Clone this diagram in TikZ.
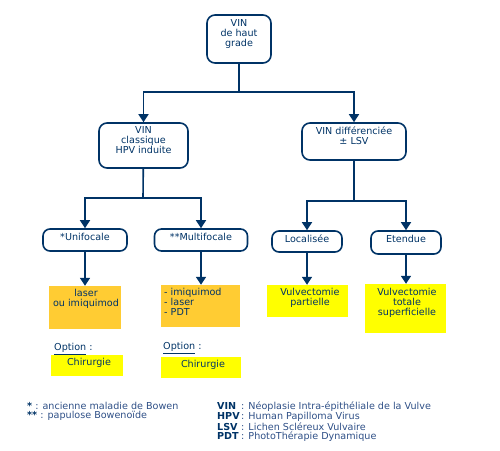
\documentclass[tikz,border=0pt]{standalone}
\usepackage{fontspec}
\setmainfont{DejaVu Sans}
\usetikzlibrary{arrows.meta}
\definecolor{navy}{HTML}{003366}
\definecolor{legc}{HTML}{2E4F86}
\definecolor{orng}{HTML}{FFCC33}
\definecolor{yelw}{HTML}{FFFF00}
\begin{document}
\begin{tikzpicture}[x=1pt,y=-1pt,
  every node/.style={font=\fontsize{9.6}{10}\selectfont, text=navy},
  rbox/.style={draw=navy, line width=1.6pt, rounded corners=8pt, rectangle, inner sep=0pt},
  txt/.style={align=center, inner sep=0pt},
  fillbox/.style={rectangle, inner sep=0pt, draw=none},
  conn/.style={draw=navy, line width=1.6pt},
  arr/.style={conn, -{Triangle[width=10pt,length=8pt]}},
  leg/.style={anchor=west, inner sep=0pt, text=legc}
]
\useasboundingbox (0,0) rectangle (500,450);

% top level
\node[rbox, minimum width=64pt, minimum height=48pt] (top) at (239,39) {};
\node[txt] (topt) at (239,34) {VIN\\de haut\\grade};

\node[rbox, minimum width=89pt, minimum height=45pt] (cls) at (143.5,145.5) {};
\node[txt] (clst) at (143.5,140) {VIN\\classique\\HPV induite};

\node[rbox, minimum width=104pt, minimum height=37pt] (dif) at (354,141.5) {};
\node[txt] (dift) at (354,136) {VIN différenciée\\± LSV};

% second level
\node[rbox, rounded corners=7pt, minimum width=84pt, minimum height=22pt] (uni) at (85,240) {};
\node[txt] (unit) at (85,236.5) {*Unifocale};
\node[rbox, rounded corners=7pt, minimum width=93pt, minimum height=22pt] (mul) at (201,240) {};
\node[txt] (mult) at (201,236.5) {**Multifocale};
\node[rbox, rounded corners=7pt, minimum width=70pt, minimum height=21pt] (loc) at (307,241.5) {};
\node[txt] (loct) at (307,238.5) {Localisée};
\node[rbox, rounded corners=7pt, minimum width=70pt, minimum height=23pt] (ete) at (406,242.5) {};
\node[txt] (etet) at (406,238.5) {Etendue};

% treatments
\node[fillbox, fill=orng, minimum width=72pt, minimum height=43pt] (or1) at (85,307.5) {};
\node[txt] (or1t) at (86,299) {laser\\ou imiquimod};
\node[fillbox, fill=orng, minimum width=79pt, minimum height=42pt] (or2) at (200.5,306) {};
\node[txt, align=left, anchor=north west] (or2t) at (164,288) {- imiquimod\\- laser\\- PDT};
\node[fillbox, fill=yelw, minimum width=81pt, minimum height=32pt] (ye1) at (307.5,301) {};
\node[txt] (ye1t) at (310,298) {Vulvectomie\\partielle};
\node[fillbox, fill=yelw, minimum width=81pt, minimum height=49pt] (ye2) at (405.5,308.5) {};
\node[txt] (ye2t) at (407,302.5) {Vulvectomie\\totale\\superficielle};

% options
\node[anchor=west, inner sep=0pt] (op1) at (54,349) {\underline{Option} :};
\node[anchor=west, inner sep=0pt] (op2) at (163,348) {\underline{Option} :};
\node[fillbox, fill=yelw, minimum width=72pt, minimum height=21pt] (ch1) at (87,365.5) {};
\node[txt] (ch1t) at (89,363) {Chirurgie};
\node[fillbox, fill=yelw, minimum width=80pt, minimum height=21pt] (ch2) at (201,367.5) {};
\node[txt] (ch2t) at (203,365) {Chirurgie};

% connectors
\coordinate (j1) at (239,92);
\coordinate (j2) at (143,198);
\coordinate (j3) at (354,201);
\draw[conn] (top) -- (j1);
\draw[arr] (j1) -| (cls);
\draw[arr] (j1) -| (dif);
\draw[conn] (cls) -- (j2);
\draw[arr] (j2) -| (uni);
\draw[arr] (j2) -| (mul);
\draw[conn] (dif) -- (j3);
\draw[arr] (j3) -| (loc);
\draw[arr] (j3) -| (ete);
\draw[arr] (uni.south) -- (uni.south |- or1.north);
\draw[arr] (mul.south) -- (mul.south |- or2.north);
\draw[arr] (loc.south) -- (loc.south |- ye1.north);
\draw[arr] (ete.south) -- (ete.south |- ye2.north);

% legend
\node[leg] (f1) at (27,406) {\textbf{\color{navy}*} : ancienne maladie de Bowen};
\node[leg] (f2) at (27,416) {\textbf{\color{navy}**} : papulose Bowenoïde};
\node[leg] (l1) at (217,407) {\makebox[24pt][l]{\textbf{\color{navy}VIN}}: Néoplasie Intra-épithéliale de la Vulve};
\node[leg] (l2) at (217,417) {\makebox[24pt][l]{\textbf{\color{navy}HPV}}: Human Papilloma Virus};
\node[leg] (l3) at (217,427) {\makebox[24pt][l]{\textbf{\color{navy}LSV}}: Lichen Scléreux Vulvaire};
\node[leg] (l4) at (217,437) {\makebox[24pt][l]{\textbf{\color{navy}PDT}}: PhotoThérapie Dynamique};
\end{tikzpicture}
\end{document}
